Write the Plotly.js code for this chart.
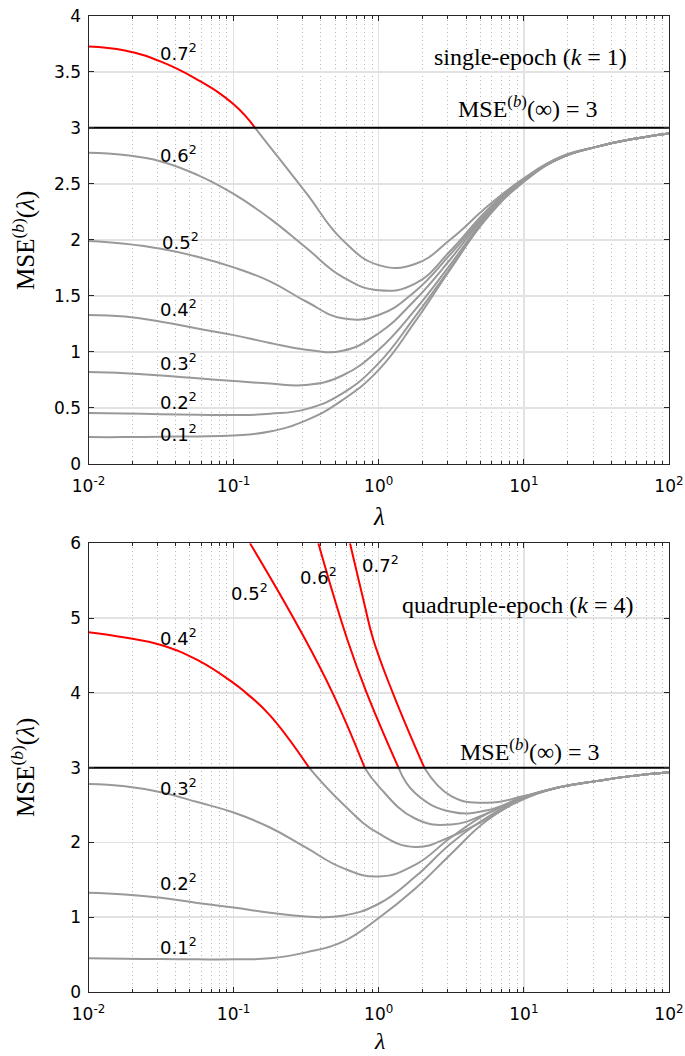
<!DOCTYPE html>
<html>
<head>
<meta charset="utf-8">
<script src="https://cdn.plot.ly/plotly-3.0.1.min.js"></script>
<style>html,body{margin:0;padding:0;background:#fff;}#chart{width:685px;height:1056px;}</style>
</head>
<body>
<div id="chart"></div>
<script>
// ---- data ----
const lam = [0.01, 0.0178, 0.0316, 0.0562, 0.1, 0.178, 0.316, 0.562, 1, 1.78, 3.16, 5.62, 10, 17.8, 31.6, 56.2, 100];

// single-epoch (k = 1)
const top01 = [0.24, 0.24, 0.244, 0.246, 0.255, 0.29, 0.39, 0.57, 0.84, 1.27, 1.75, 2.20, 2.52, 2.73, 2.83, 2.90, 2.95];
const top02 = [0.454, 0.451, 0.445, 0.44, 0.437, 0.448, 0.49, 0.63, 0.90, 1.315, 1.76, 2.21, 2.52, 2.73, 2.83, 2.90, 2.95];
const top03 = [0.82, 0.81, 0.79, 0.765, 0.74, 0.718, 0.705, 0.79, 1.02, 1.375, 1.79, 2.22, 2.53, 2.73, 2.83, 2.90, 2.95];
const top04 = [1.33, 1.316, 1.27, 1.21, 1.15, 1.08, 1.02, 1.01, 1.167, 1.464, 1.836, 2.24, 2.53, 2.73, 2.83, 2.90, 2.95];
const top05 = [1.99, 1.965, 1.92, 1.85, 1.755, 1.63, 1.45, 1.30, 1.33, 1.54, 1.88, 2.25, 2.535, 2.73, 2.83, 2.90, 2.95];
const top06 = [2.777, 2.757, 2.70, 2.58, 2.41, 2.19, 1.93, 1.67, 1.55, 1.61, 1.91, 2.27, 2.54, 2.73, 2.83, 2.90, 2.95];
const top07Lam = [0.01, 0.0178, 0.0316, 0.0562, 0.1, 0.1406, 0.178, 0.316, 0.562, 1, 1.78, 3.16, 5.62, 10, 17.8, 31.6, 56.2, 100];
const top07 = [3.726, 3.69, 3.59, 3.43, 3.21, 3.0, 2.83, 2.42, 2.0, 1.775, 1.785, 2.01, 2.30, 2.55, 2.74, 2.83, 2.90, 2.95];

// quadruple-epoch (k = 4)
const bot01 = [0.45, 0.445, 0.44, 0.437, 0.437, 0.45, 0.53, 0.67, 0.99, 1.38, 1.85, 2.30, 2.58, 2.74, 2.82, 2.89, 2.94];
const bot02 = [1.327, 1.305, 1.26, 1.19, 1.13, 1.06, 1.01, 1.02, 1.18, 1.54, 1.99, 2.34, 2.59, 2.74, 2.82, 2.89, 2.94];
const bot03 = [2.78, 2.75, 2.67, 2.54, 2.40, 2.20, 1.93, 1.66, 1.545, 1.70, 2.07, 2.39, 2.59, 2.74, 2.82, 2.89, 2.94];
const bot04Lam = [0.01, 0.0178, 0.0316, 0.0562, 0.1, 0.1216, 0.178, 0.331, 0.562, 1, 1.78, 3.16, 5.62, 10, 17.8, 31.6, 56.2, 100];
const bot04 = [4.81, 4.74, 4.64, 4.44, 4.13, 4.0, 3.70, 3.0, 2.52, 2.12, 1.94, 2.08, 2.32, 2.59, 2.74, 2.82, 2.89, 2.94];
const bot05Lam = [0.1297, 0.287, 0.486, 0.80, 1, 1.78, 3.16, 5.62, 10, 17.8, 31.6, 56.2, 100];
const bot05 = [6.0, 4.84, 3.98, 3.0, 2.75, 2.32, 2.24, 2.39, 2.61, 2.74, 2.82, 2.89, 2.94];
const bot06Lam = [0.3837, 0.608, 0.826, 1.368, 1.78, 3.16, 5.62, 10, 17.8, 31.6, 56.2, 100];
const bot06 = [6.0, 4.71, 4.0, 3.0, 2.66, 2.41, 2.43, 2.61, 2.74, 2.82, 2.89, 2.94];
const bot07Lam = [0.634, 0.794, 0.918, 1.25, 2.06, 3.16, 5.62, 10, 17.8, 31.6, 56.2, 100];
const bot07 = [6.0, 5.2, 4.71, 4.0, 3.0, 2.62, 2.53, 2.62, 2.74, 2.82, 2.89, 2.94];

const limitLam = [0.01, 100];
const limitMse = [3, 3];

const curveNames = ['0.1', '0.2', '0.3', '0.4', '0.5', '0.6', '0.7'];
const xTickVals = [0.01, 0.1, 1, 10, 100];
const xTickText = ['10<sup>-2</sup>', '10<sup>-1</sup>', '10<sup>0</sup>', '10<sup>1</sup>', '10<sup>2</sup>'];

// label anchor positions (lambda, mse)
const topLabelLam = [0.0301, 0.0301, 0.0301, 0.0301, 0.0312, 0.0301, 0.0301];
const topLabelMse = [0.28, 0.56, 0.91, 1.39, 1.99, 2.77, 3.68];
const botLabelLam = [0.0301, 0.0301, 0.0301, 0.0301, 0.0929, 0.278, 0.745];
const botLabelMse = [0.61, 1.47, 2.74, 4.75, 5.35, 5.56, 5.72];

// ---- build ----
const GRAY = '#999999', RED = '#ff0000';
const traces = [];
function addSplit(xs, ys, xa, ya) {
  const gx = [], gy = [], rx = [], ry = [];
  for (let i = 0; i < xs.length; i++) {
    if (ys[i] <= 3) { gx.push(xs[i]); gy.push(ys[i]); }
    if (ys[i] >= 3) { rx.push(xs[i]); ry.push(ys[i]); }
  }
  traces.push({x: gx, y: gy, xaxis: xa, yaxis: ya, mode: 'lines', hoverinfo: 'skip',
    line: {color: GRAY, width: 2, shape: 'spline', smoothing: 1.3}});
  if (rx.length > 1) traces.push({x: rx, y: ry, xaxis: xa, yaxis: ya, mode: 'lines', hoverinfo: 'skip',
    line: {color: RED, width: 2, shape: 'spline', smoothing: 1.3}});
}
[top01, top02, top03, top04, top05, top06].forEach(s => addSplit(lam, s, 'x', 'y'));
addSplit(top07Lam, top07, 'x', 'y');
[bot01, bot02, bot03].forEach(s => addSplit(lam, s, 'x2', 'y2'));
addSplit(bot04Lam, bot04, 'x2', 'y2');
addSplit(bot05Lam, bot05, 'x2', 'y2');
addSplit(bot06Lam, bot06, 'x2', 'y2');
addSplit(bot07Lam, bot07, 'x2', 'y2');
traces.push({x: limitLam, y: limitMse, xaxis: 'x', yaxis: 'y', mode: 'lines', line: {color: '#000', width: 2}, hoverinfo: 'skip'});
traces.push({x: limitLam, y: limitMse, xaxis: 'x2', yaxis: 'y2', mode: 'lines', line: {color: '#000', width: 2}, hoverinfo: 'skip'});

const AX = '#262626';
const tickFont = {family: 'DejaVu Sans', size: 17, color: '#000'};
function xAxis(anchor) {
  return {type: 'log', range: [-2, 2], domain: [0.1292, 0.9766], anchor: anchor,
    showline: true, linecolor: AX, linewidth: 1, mirror: 'allticks',
    ticks: 'inside', ticklen: 5, tickcolor: AX, tickwidth: 1, ticklabelstandoff: 7,
    tickmode: 'array', tickvals: xTickVals, ticktext: xTickText, tickfont: tickFont,
    showgrid: true, gridcolor: '#e2e2e2', gridwidth: 1.5, zeroline: false,
    minor: {dtick: 'D1', ticks: 'inside', ticklen: 3, tickcolor: AX, showgrid: true,
      gridcolor: '#b8b8b8', griddash: '1px,3px', gridwidth: 1}};
}
function yAxis(anchor, dom, rng, dt) {
  return {domain: dom, range: rng, dtick: dt, tick0: 0, anchor: anchor,
    showline: true, linecolor: AX, linewidth: 1, mirror: 'allticks',
    ticks: 'inside', ticklen: 5, tickcolor: AX, tickfont: tickFont, ticklabelstandoff: 3,
    showgrid: true, gridcolor: '#e2e2e2', gridwidth: 1.5, zeroline: false};
}

const serif = 'Liberation Serif';
const ann = [];
function lbl(i, xl, yl, xr, yr) {
  ann.push({x: Math.log10(xl), y: yl, xref: xr, yref: yr, text: curveNames[i] + '<sup>2</sup>',
    showarrow: false, xanchor: 'left', yanchor: 'middle', font: {family: 'DejaVu Sans', size: 18, color: '#000'}});
}
for (let i = 0; i < 7; i++) { lbl(i, topLabelLam[i], topLabelMse[i], 'x', 'y'); lbl(i, botLabelLam[i], botLabelMse[i], 'x2', 'y2'); }
function txt(x, y, xr, yr, t, size) {
  ann.push({x: x, y: y, xref: xr, yref: yr, text: t, showarrow: false, xanchor: 'center', yanchor: 'middle',
    font: {family: serif, size: size, color: '#000'}});
}
txt(Math.log10(11.2), 3.63, 'x', 'y', 'single-epoch (<i>k</i> = 1)', 24);
txt(Math.log10(10.7), 3.185, 'x', 'y', 'MSE<sup>(<i>b</i>)</sup>(∞) = 3', 24);
txt(Math.log10(9.1), 5.17, 'x2', 'y2', 'quadruple-epoch (<i>k</i> = 4)', 24);
txt(Math.log10(11.0), 3.235, 'x2', 'y2', 'MSE<sup>(<i>b</i>)</sup>(∞) = 3', 24);
// axis titles
ann.push({x: 0.035, y: 0.7727, xref: 'paper', yref: 'paper', text: 'MSE<sup>(<i>b</i>)</sup>(<i>λ</i>)', textangle: -90,
  showarrow: false, xanchor: 'center', yanchor: 'middle', font: {family: serif, size: 25, color: '#000'}});
ann.push({x: 0.035, y: 0.2737, xref: 'paper', yref: 'paper', text: 'MSE<sup>(<i>b</i>)</sup>(<i>λ</i>)', textangle: -90,
  showarrow: false, xanchor: 'center', yanchor: 'middle', font: {family: serif, size: 25, color: '#000'}});
ann.push({x: 0.5533, y: 1 - 516 / 1056, xref: 'paper', yref: 'paper', text: '<i>λ</i>',
  showarrow: false, xanchor: 'center', yanchor: 'middle', font: {family: serif, size: 25, color: '#000'}});
ann.push({x: 0.5533, y: 1 - 1041 / 1056, xref: 'paper', yref: 'paper', text: '<i>λ</i>',
  showarrow: false, xanchor: 'center', yanchor: 'middle', font: {family: serif, size: 24, color: '#000'}});

const layout = {
  width: 685, height: 1056, margin: {l: 0, r: 0, t: 0, b: 0},
  paper_bgcolor: '#fff', plot_bgcolor: '#fff', showlegend: false,
  xaxis: xAxis('y'), yaxis: yAxis('x', [0.5606, 0.9851], [0, 4], 0.5),
  xaxis2: xAxis('y2'), yaxis2: yAxis('x2', [0.0606, 0.4855], [0, 6], 1),
  annotations: ann
};
Plotly.newPlot('chart', traces, layout, {staticPlot: true, displayModeBar: false});
</script>
</body>
</html>
